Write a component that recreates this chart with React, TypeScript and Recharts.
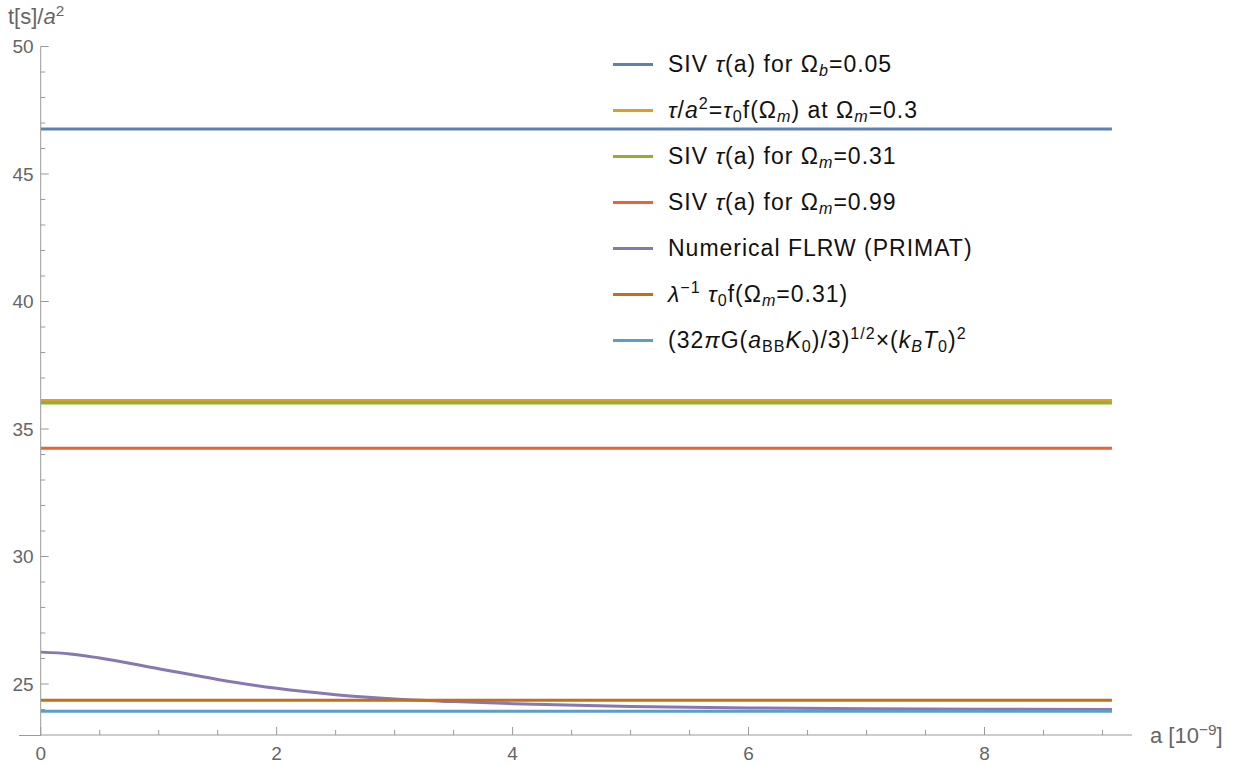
import React from 'react';
import { LineChart, Line, XAxis, YAxis, Legend } from 'recharts';

// scale factor a, in units of 1e-9
const aValues = [0, 0.25, 0.5, 1, 1.5, 2, 2.5, 3, 3.5, 4, 5, 6, 7, 8, 9.08];
// Numerical FLRW (PRIMAT) t/a^2
const primatValues = [26.25, 26.18, 26.02, 25.6, 25.18, 24.83, 24.58, 24.41, 24.31, 24.23, 24.12, 24.06, 24.03, 24.01, 24.0];

// flat curves
const sivOmegaB005 = 46.76;
const tauF03 = 36.12;
const sivOmegaM031 = 36.02;
const sivOmegaM099 = 34.25;
const lambdaTauF031 = 24.36;
const kbt0Limit = 23.93;

const xTicks = [0, 0.5, 1, 1.5, 2, 2.5, 3, 3.5, 4, 4.5, 5, 5.5, 6, 6.5, 7, 7.5, 8, 8.5, 9];
const xMajor = [0, 2, 4, 6, 8];
const yTicks = [24, 25, 26, 27, 28, 29, 30, 31, 32, 33, 34, 35, 36, 37, 38, 39, 40, 41, 42, 43, 44, 45, 46, 47, 48, 49, 50];
const yMajor = [25, 30, 35, 40, 45, 50];

const data = aValues.map((a, i) => ({
  a,
  sivB: sivOmegaB005,
  tauF: tauF03,
  siv31: sivOmegaM031,
  siv99: sivOmegaM099,
  primat: primatValues[i],
  lambdaF: lambdaTauF031,
  kbt: kbt0Limit,
}));

const AXIS = '#9a9a9a';
const LABEL = '#666';

const sub = (s: React.ReactNode) => <sub style={{ fontSize: '0.7em', verticalAlign: '-0.25em', lineHeight: 0 }}>{s}</sub>;
const sup = (s: React.ReactNode) => <sup style={{ fontSize: '0.7em', verticalAlign: '0.55em', lineHeight: 0 }}>{s}</sup>;

const series = [
  { key: 'sivB', color: '#5E81B5', curve: 'linear', label: <>SIV <i>τ</i>(a) for Ω{sub(<i>b</i>)}=0.05</> },
  { key: 'tauF', color: '#E19C24', curve: 'linear', label: <><i>τ</i>/<i>a</i>{sup('2')}=<i>τ</i>{sub('0')}f(Ω{sub(<i>m</i>)}) at Ω{sub(<i>m</i>)}=0.3</> },
  { key: 'siv31', color: '#8FB032', curve: 'linear', label: <>SIV <i>τ</i>(a) for Ω{sub(<i>m</i>)}=0.31</> },
  { key: 'siv99', color: '#EB6235', curve: 'linear', label: <>SIV <i>τ</i>(a) for Ω{sub(<i>m</i>)}=0.99</> },
  { key: 'primat', color: '#8778B3', curve: 'monotone', label: <>Numerical FLRW (PRIMAT)</> },
  { key: 'lambdaF', color: '#C56E1A', curve: 'linear', label: <><i>λ</i>{sup('−1')} <i>τ</i>{sub('0')}f(Ω{sub(<i>m</i>)}=0.31)</> },
  { key: 'kbt', color: '#5D9EC7', curve: 'linear', label: <>(32<i>π</i>G(<i>a</i>{sub('BB')}<i>K</i>{sub('0')})/3){sup('1/2')}×(<i>k</i>{sub(<i>B</i>)}<i>T</i>{sub('0')}){sup('2')}</> },
];

const renderLegend = (props: any) => {
  const items = [...props.payload].sort(
    (p: any, q: any) => series.findIndex((s) => s.key === p.dataKey) - series.findIndex((s) => s.key === q.dataKey)
  );
  return (
    <div style={{ fontFamily: '"Liberation Sans", Arial, sans-serif', fontSize: 23, letterSpacing: 1, color: '#111' }}>
      {items.map((p: any) => (
        <div key={p.dataKey} style={{ display: 'flex', alignItems: 'center', height: 46 }}>
          <div style={{ width: 40, height: 3, background: p.color, marginRight: 15 }} />
          <span style={{ whiteSpace: 'nowrap' }}>{series.find((s) => s.key === p.dataKey)?.label}</span>
        </div>
      ))}
    </div>
  );
};

const XTick = (props: any) => {
  const { x, y, payload } = props;
  const major = xMajor.includes(payload.value);
  return (
    <g>
      <line x1={x} x2={x} y1={y} y2={y - (major ? 8 : 5)} stroke={AXIS} />
      {major && (
        <text x={x} y={y + 25} textAnchor="middle" fill={LABEL} fontSize={19}>
          {payload.value}
        </text>
      )}
    </g>
  );
};

const YTick = (props: any) => {
  const { x, y, payload } = props;
  const major = yMajor.includes(payload.value);
  return (
    <g>
      <line x1={x} x2={x + (major ? 8 : 4.5)} y1={y} y2={y} stroke={AXIS} />
      {major && (
        <text x={x - 7} y={y} dy="0.35em" textAnchor="end" fill={LABEL} fontSize={19}>
          {payload.value}
        </text>
      )}
    </g>
  );
};

export default function App() {
  return (
    <div style={{ position: 'absolute', left: 0, top: 0, width: 1240, height: 766, background: '#fff', fontFamily: '"Liberation Sans", Arial, sans-serif' }}>
      <LineChart width={1240} height={766} data={data} margin={{ top: 46.5, right: 108, left: 0, bottom: 0 }}>
        <XAxis
          dataKey="a"
          type="number"
          domain={[0, 9.25]}
          ticks={xTicks}
          interval={0}
          tickLine={false}
          tickSize={0}
          tickMargin={0}
          height={31}
          axisLine={{ stroke: AXIS }}
          tick={<XTick />}
          allowDataOverflow
        />
        <YAxis
          type="number"
          domain={[23, 50]}
          ticks={yTicks}
          interval={0}
          tickLine={false}
          tickSize={0}
          tickMargin={0}
          width={40.7}
          axisLine={{ stroke: AXIS }}
          tick={<YTick />}
          allowDataOverflow
        />
        <Legend
          content={renderLegend}
          layout="vertical"
          verticalAlign="middle"
          align="center"
          wrapperStyle={{ left: 613, top: 41, width: 560 }}
        />
        {series.map((s) => (
          <Line
            key={s.key}
            dataKey={s.key}
            type={s.curve as any}
            stroke={s.color}
            strokeWidth={3}
            dot={false}
            isAnimationActive={false}
          />
        ))}
      </LineChart>
      <div style={{ position: 'absolute', left: 19, top: 734.5, width: 22, height: 1, background: AXIS }} />
      <div style={{ position: 'absolute', left: 8, top: 4, fontSize: 22, color: LABEL, whiteSpace: 'nowrap' }}>
        t[s]/<i>a</i>{sup('2')}
      </div>
      <div style={{ position: 'absolute', left: 1150, top: 723, fontSize: 22, color: LABEL, whiteSpace: 'nowrap' }}>
        a [10{sup('−9')}]
      </div>
    </div>
  );
}
